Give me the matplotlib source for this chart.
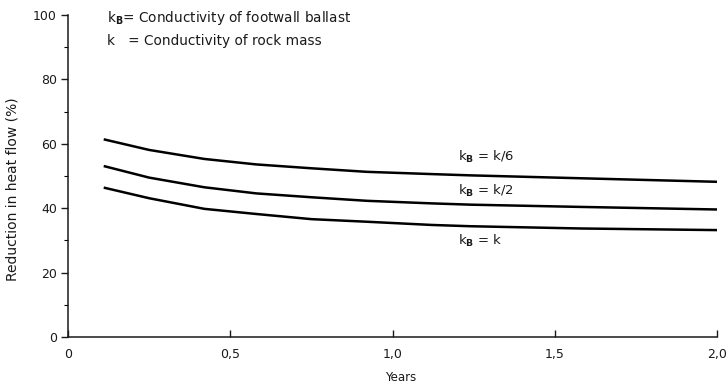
import numpy as np
import matplotlib.pyplot as plt
from matplotlib.ticker import MultipleLocator

# time after placing the ballast (years)
years = [0.11, 0.25, 0.42, 0.58, 0.75, 0.92, 1.12, 1.24, 1.58, 2.0]

# reduction in heat flow (%) for three ballast conductivities
k_over_6 = [61.4, 58.1, 55.3, 53.6, 52.4, 51.3, 50.6, 50.2, 49.3, 48.2]
k_over_2 = [53.1, 49.5, 46.5, 44.6, 43.4, 42.3, 41.5, 41.1, 40.4, 39.6]
k_equal = [46.4, 43.1, 39.8, 38.2, 36.6, 35.8, 34.8, 34.4, 33.7, 33.2]

curve_labels = [r"k$_{\mathbf{B}}$ = k/6", r"k$_{\mathbf{B}}$ = k/2", r"k$_{\mathbf{B}}$ = k"]
label_pos = [(1.2, 55.8), (1.2, 45.3), (1.2, 29.8)]

ink = "#1a1a1a"
plt.rcParams["font.family"] = "DejaVu Sans"
plt.rcParams["mathtext.fontset"] = "dejavusans"

fig = plt.figure(figsize=(7.28, 3.86), dpi=100)
ax = fig.add_axes([0.0934, 0.127, 0.892, 0.834])

for series in (k_over_6, k_over_2, k_equal):
    ax.plot(years, series, color="black", lw=1.8, solid_capstyle="butt")

for text, (x, y) in zip(curve_labels, label_pos):
    ax.text(x, y, text, fontsize=9.5, color=ink, ha="left", va="center")

# key in the top left corner
ax.text(0.12, 99.0, r"k$_{\mathbf{B}}$= Conductivity of footwall ballast",
        fontsize=9.8, color=ink, va="center")
ax.text(0.12, 92.0, r"k   = Conductivity of rock mass",
        fontsize=9.8, color=ink, va="center")

ax.set_xlim(0, 2.0)
ax.set_ylim(0, 100)
ax.xaxis.set_major_locator(MultipleLocator(0.5))
ax.yaxis.set_major_locator(MultipleLocator(20))
ax.yaxis.set_minor_locator(MultipleLocator(10))
ax.set_xticks([0, 0.5, 1.0, 1.5, 2.0])
ax.set_xticklabels(["0", "0,5", "1,0", "1,5", "2,0"])

ax.tick_params(axis="y", which="major", direction="out", length=5, width=1,
               labelsize=9, colors=ink, pad=3)
ax.tick_params(axis="y", which="minor", direction="out", length=3, width=0.8)
ax.tick_params(axis="x", which="major", direction="in", length=5, width=1,
               labelsize=9, colors=ink, pad=8)

for side in ("top", "right"):
    ax.spines[side].set_visible(False)
for side in ("left", "bottom"):
    ax.spines[side].set_linewidth(1.1)
    ax.spines[side].set_color(ink)

ax.set_xlabel("Years", fontsize=8.5, color=ink)
ax.set_ylabel("Reduction in heat flow (%)", fontsize=10, color=ink)
ax.xaxis.set_label_coords(0.513, -0.105)
ax.yaxis.set_label_coords(-0.075, 0.46)

fig.savefig("out.png", dpi=100)
